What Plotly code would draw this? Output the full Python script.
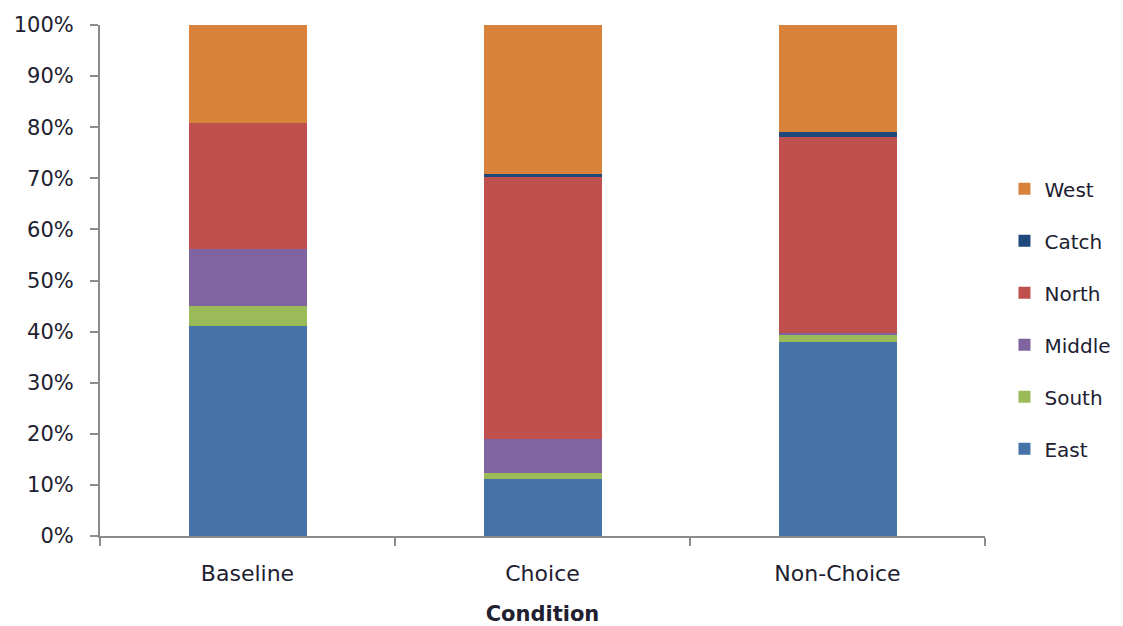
import plotly.graph_objects as go

# Share of responses per location, by condition (percent of total)
conditions = ["Baseline", "Choice", "Non-Choice"]
east = [41.0, 11.2, 38.0]
south = [4.0, 1.1, 1.3]
middle = [11.2, 6.7, 0.5]
north = [24.7, 51.3, 38.3]
catch = [0.0, 0.5, 0.9]
west = [19.1, 29.2, 21.0]

y_ticks = list(range(0, 101, 10))
y_tick_labels = [f"{v}%" for v in y_ticks]

series = [
    ("East", east, "#4573A7"),
    ("South", south, "#9BBB59"),
    ("Middle", middle, "#8064A2"),
    ("North", north, "#C0504D"),
    ("Catch", catch, "#1F497D"),
    ("West", west, "#D9823B"),
]

text_color = "#202030"
axis_color = "#8C8C8C"
font_family = "DejaVu Sans, Verdana, sans-serif"

fig = go.Figure()
for rank, (name, values, color) in enumerate(series):
    fig.add_trace(go.Bar(
        x=conditions,
        y=values,
        name=name,
        legendgroup=name,
        legendrank=100 - rank,
        marker=dict(color=color, line=dict(width=0)),
    ))

fig.update_layout(
    width=1123,
    height=626,
    barmode="stack",
    bargap=0.6,
    plot_bgcolor="white",
    paper_bgcolor="white",
    margin=dict(l=100, r=138, t=25, b=90, autoexpand=False),
    font=dict(family=font_family, size=20, color=text_color),
    legend=dict(
        traceorder="grouped",
        tracegroupgap=23,
        x=1.022,
        xanchor="left",
        y=0.425,
        yanchor="middle",
        font=dict(size=20, color=text_color),
        itemwidth=30,
    ),
    xaxis=dict(
        title=dict(text="<b>Condition</b>", font=dict(size=21), standoff=31),
        showline=True,
        linecolor=axis_color,
        linewidth=2,
        ticks="outside",
        tickson="boundaries",
        ticklen=8,
        tickwidth=1.5,
        tickcolor=axis_color,
        showgrid=False,
        tickfont=dict(size=22),
        ticklabelstandoff=17,
    ),
    yaxis=dict(
        range=[0, 100],
        tickvals=y_ticks,
        ticktext=y_tick_labels,
        showline=True,
        linecolor=axis_color,
        linewidth=2,
        ticks="outside",
        ticklen=8,
        tickwidth=1.5,
        tickcolor=axis_color,
        showgrid=False,
        zeroline=False,
        tickfont=dict(size=21),
        ticklabelstandoff=12,
    ),
)

fig.write_html("out.html")
